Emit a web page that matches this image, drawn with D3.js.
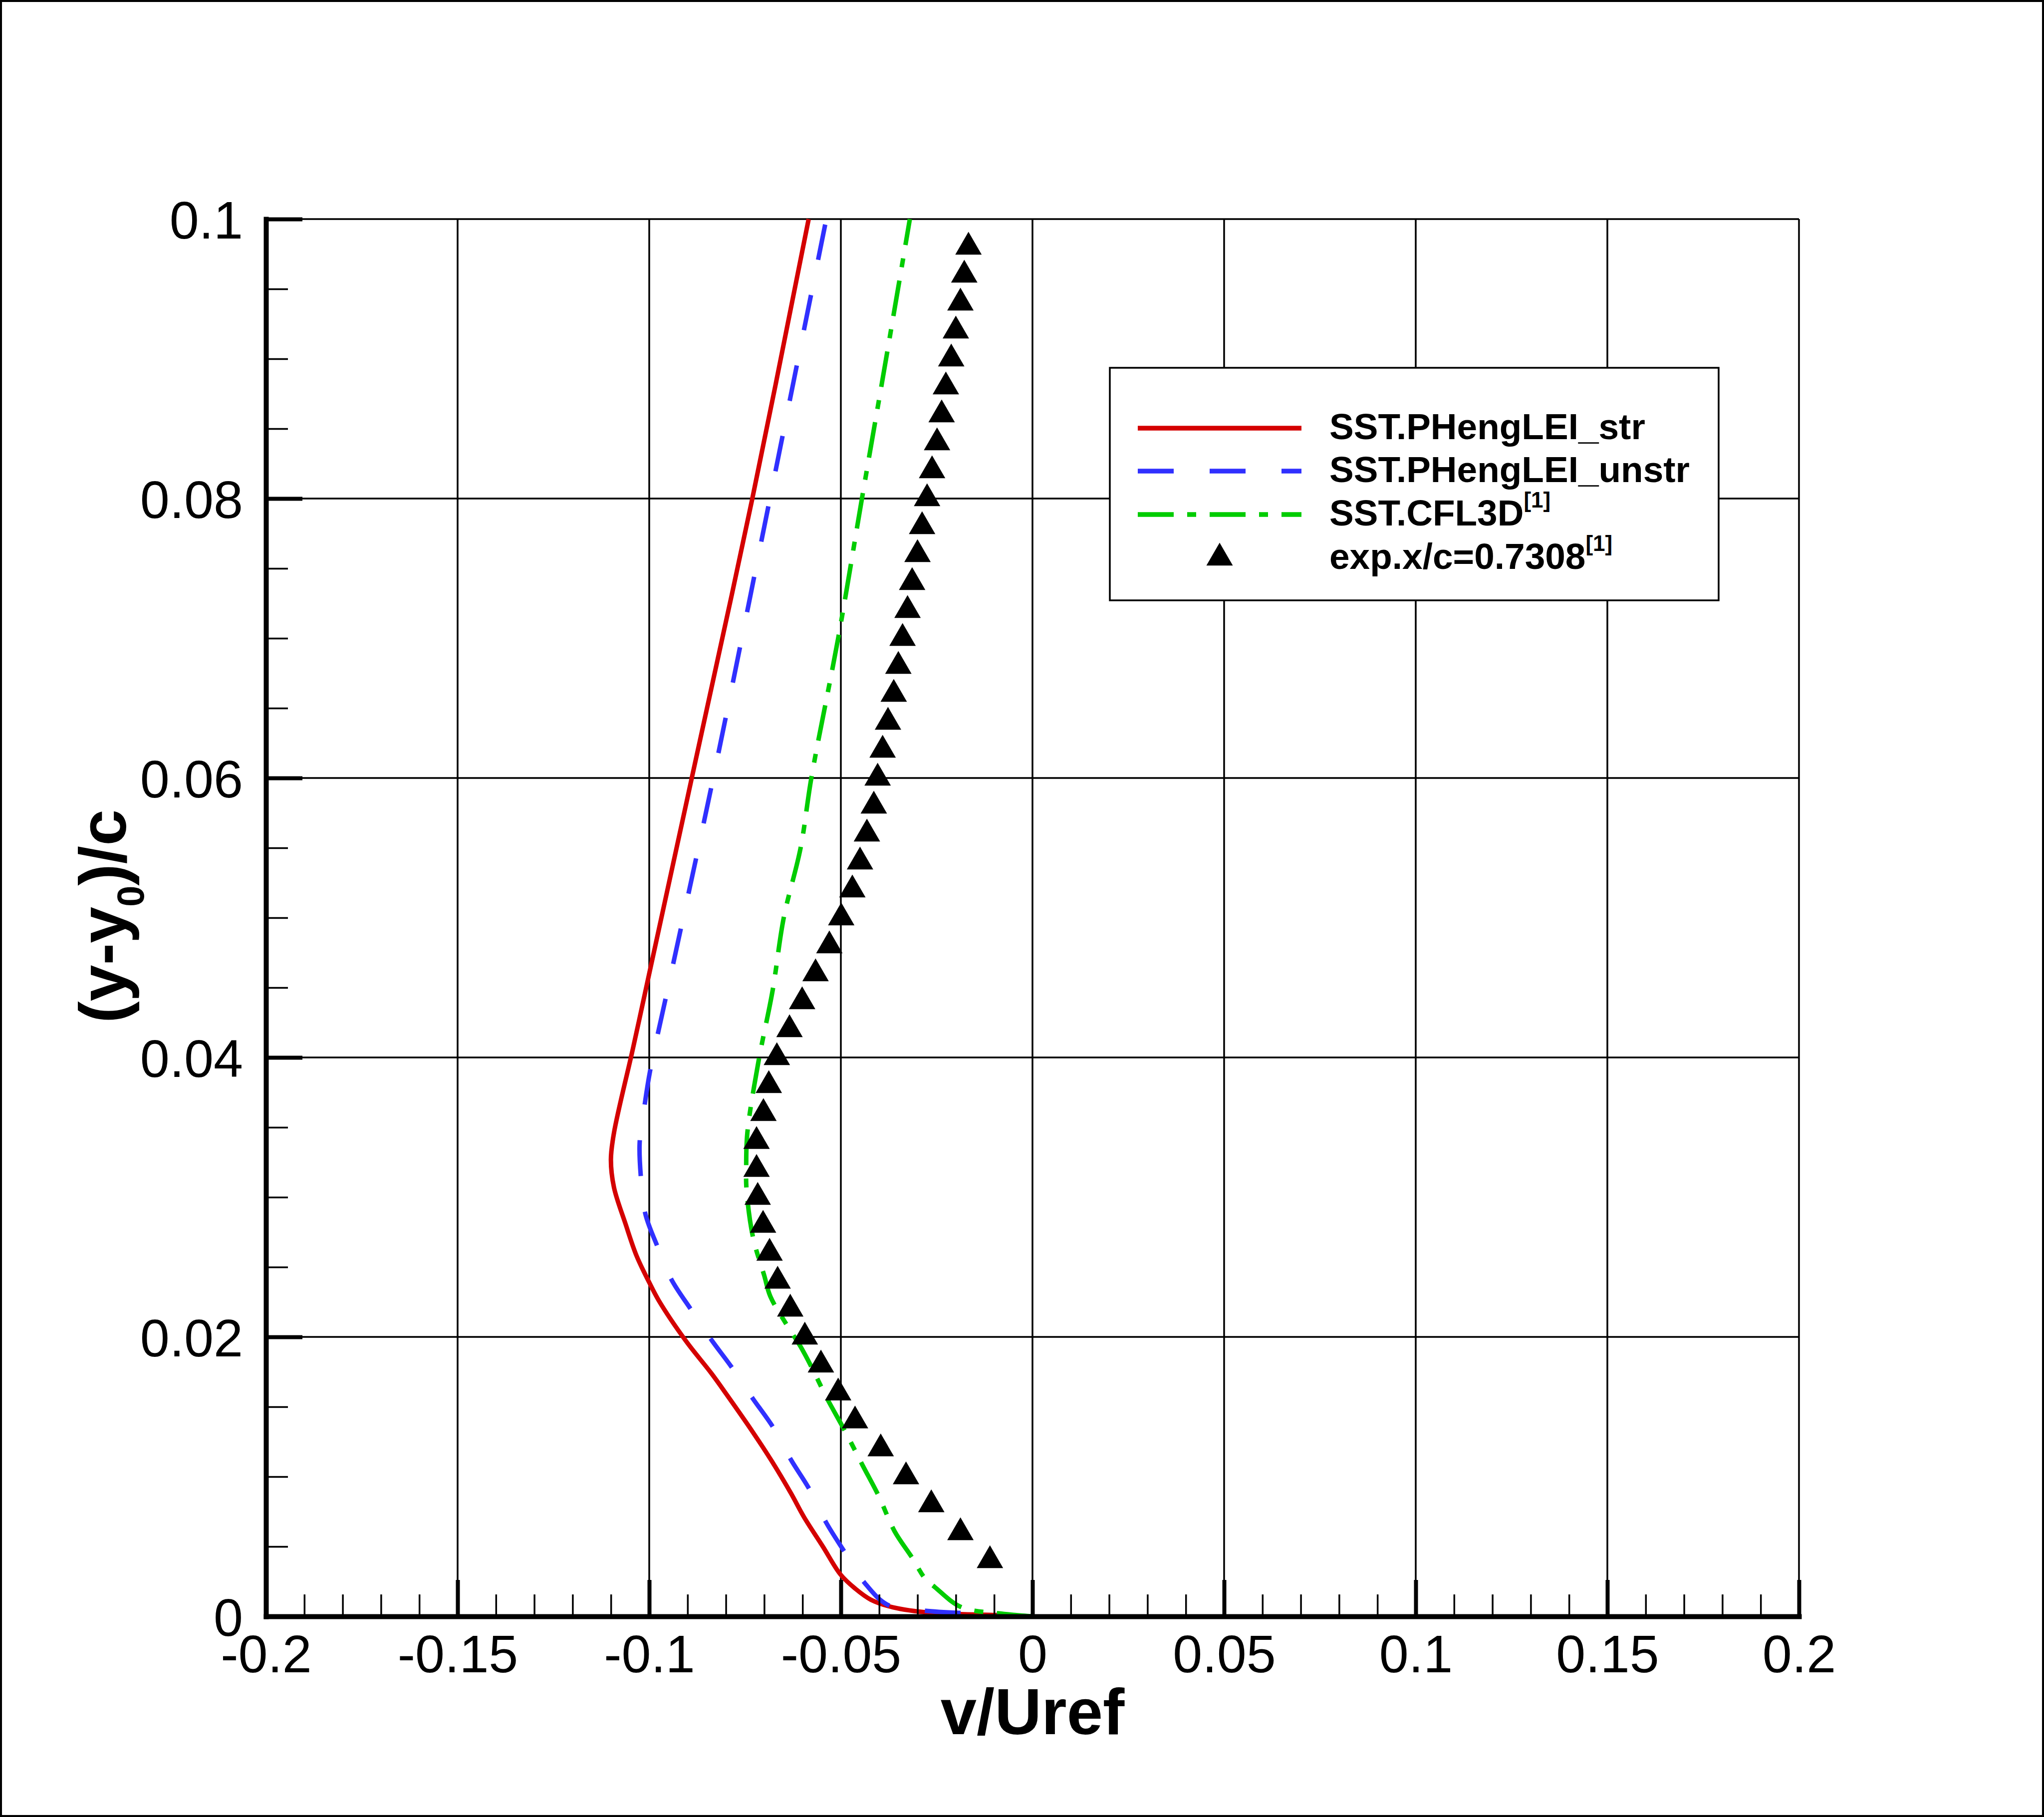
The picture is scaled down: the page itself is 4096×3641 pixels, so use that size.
<!DOCTYPE html>
<html>
<head>
<meta charset="utf-8">
<script src="https://cdn.jsdelivr.net/npm/d3@7"></script>
<style>
  body { margin: 0; background: #fff; }
  svg { display: block; }
  text { font-family: "Liberation Sans", Arial, Helvetica, sans-serif; }
</style>
</head>
<body>
<svg id="chart"></svg>
<script>
// Data (v/Uref vs (y-y0)/c)
const redY = [0, 0.0001, 0.00026, 0.00065, 0.0012, 0.002, 0.003, 0.005, 0.0071, 0.0088, 0.0111, 0.0132, 0.0158, 0.0174, 0.0197, 0.0226, 0.0239, 0.0258, 0.0281, 0.0307, 0.0327, 0.0346, 0.0407, 0.046, 0.06, 0.08, 0.1];
const redV = [0, -0.0097, -0.0264, -0.0364, -0.0422, -0.0463, -0.0501, -0.0547, -0.0596, -0.063, -0.068, -0.073, -0.0796, -0.0838, -0.0904, -0.0975, -0.1, -0.1033, -0.1062, -0.1092, -0.11, -0.1092, -0.1042, -0.1, -0.0889, -0.0731, -0.0584];

const blueY = [0, 0.0002, 0.0004, 0.0008, 0.0024, 0.0046, 0.0067, 0.0091, 0.0112, 0.0135, 0.0156, 0.0178, 0.0198, 0.022, 0.0241, 0.0265, 0.0288, 0.0315, 0.0339, 0.0366, 0.039, 0.046, 0.06, 0.08, 0.1];
const blueV = [0, -0.015, -0.028, -0.0376, -0.0438, -0.049, -0.0538, -0.0582, -0.063, -0.0676, -0.073, -0.0784, -0.0838, -0.0892, -0.0942, -0.0979, -0.101, -0.1022, -0.1025, -0.1012, -0.0998, -0.0943, -0.0833, -0.0685, -0.0538];

const greenY = [0, 0.0002, 0.00065, 0.0021, 0.0027, 0.0042, 0.0061, 0.0086, 0.0108, 0.0132, 0.0157, 0.0176, 0.0193, 0.0209, 0.0229, 0.0244, 0.0271, 0.0305, 0.0322, 0.0346, 0.0397, 0.0448, 0.05, 0.055, 0.06, 0.07, 0.08, 0.09, 0.1];
const greenV = [0, -0.0081, -0.0185, -0.0255, -0.028, -0.0314, -0.036, -0.0401, -0.0443, -0.0488, -0.0538, -0.0572, -0.0605, -0.0642, -0.0684, -0.07, -0.0729, -0.0746, -0.0747, -0.0744, -0.0715, -0.0678, -0.0649, -0.0605, -0.0577, -0.0507, -0.0445, -0.0382, -0.032];

const expY = [0.004, 0.006, 0.008, 0.010, 0.012, 0.014, 0.016, 0.018, 0.020, 0.022, 0.024, 0.026, 0.028, 0.030, 0.032, 0.034, 0.036, 0.038, 0.040, 0.042, 0.044, 0.046, 0.048, 0.050, 0.052, 0.054, 0.056, 0.058, 0.060, 0.062, 0.064, 0.066, 0.068, 0.070, 0.072, 0.074, 0.076, 0.078, 0.080, 0.082, 0.084, 0.086, 0.088, 0.090, 0.092, 0.094, 0.096, 0.098];
const expV = [-0.0111, -0.0188, -0.0264, -0.0330, -0.0396, -0.0463, -0.0507, -0.0552, -0.0594, -0.0632, -0.0665, -0.0686, -0.0703, -0.0717, -0.0720, -0.0720, -0.0702, -0.0688, -0.0667, -0.0634, -0.0601, -0.0566, -0.0530, -0.0499, -0.0470, -0.0450, -0.0432, -0.0414, -0.0404, -0.0391, -0.0377, -0.0362, -0.0350, -0.0339, -0.0326, -0.0314, -0.0300, -0.0288, -0.0275, -0.0262, -0.0249, -0.0237, -0.0226, -0.0212, -0.0200, -0.0188, -0.0178, -0.0167];

const xTicks = [-0.2, -0.15, -0.1, -0.05, 0, 0.05, 0.1, 0.15, 0.2];
const xTickLabels = ["-0.2", "-0.15", "-0.1", "-0.05", "0", "0.05", "0.1", "0.15", "0.2"];
const yTicks = [0, 0.02, 0.04, 0.06, 0.08, 0.1];
const yTickLabels = ["0", "0.02", "0.04", "0.06", "0.08", "0.1"];

const seriesNames = ["SST.PHengLEI_str", "SST.PHengLEI_unstr", "SST.CFL3D", "exp.x/c=0.7308"];
const seriesSup = ["", "", "[1]", "[1]"];

const W = 4096, H = 3641;
const margin = {top: 439, right: 491, bottom: 402, left: 533};

const svg = d3.select('#chart').attr('width', W).attr('height', H);

// scales
const x = d3.scaleLinear().domain([-0.2, 0.2]).range([margin.left, W - margin.right]);
const y = d3.scaleLinear().domain([0, 0.1]).range([H - margin.bottom, margin.top]);

const xMinor = x.ticks(40).filter(d => !xTicks.some(t => Math.abs(t - d) < 1e-9));
const yMinor = y.ticks(20).filter(d => !yTicks.some(t => Math.abs(t - d) < 1e-9));

// outer frame
svg.append('rect')
    .attr('x', 2).attr('y', 2).attr('width', W - 4).attr('height', H - 4)
    .attr('fill', 'white').attr('stroke', 'black').attr('stroke-width', 4);

// grid
const grid = svg.append('g').attr('stroke', 'black').attr('stroke-width', 3.5);
grid.selectAll('.vgrid').data(xTicks).join('line')
    .attr('class', 'vgrid')
    .attr('x1', d => x(d)).attr('x2', d => x(d))
    .attr('y1', y(0)).attr('y2', y(0.1));
grid.selectAll('.hgrid').data(yTicks).join('line')
    .attr('class', 'hgrid')
    .attr('x1', x(-0.2)).attr('x2', x(0.2))
    .attr('y1', d => y(d)).attr('y2', d => y(d));

// curves
const toPts = (vs, ys) => vs.map((v, i) => [v, ys[i]]);
const line = d3.line().x(d => x(d[0])).y(d => y(d[1])).curve(d3.curveCatmullRom.alpha(0.5));

const curves = [
  {pts: toPts(redV, redY), color: '#d40000', dash: null},
  {pts: toPts(blueV, blueY), color: '#3030ff', dash: '72,72'},
  {pts: toPts(greenV, greenY), color: '#00cc00', dash: '72,27,18,27'}
];

svg.append('g').selectAll('path').data(curves).join('path')
    .attr('d', d => line(d.pts))
    .attr('fill', 'none')
    .attr('stroke', d => d.color)
    .attr('stroke-width', 9)
    .attr('stroke-dasharray', d => d.dash);

// experimental triangles
const tri = d3.symbol().type(d3.symbolTriangle).size(1216);
svg.append('g').selectAll('path').data(toPts(expV, expY)).join('path')
    .attr('transform', d => `translate(${x(d[0])},${y(d[1])})`)
    .attr('d', tri)
    .attr('fill', 'black');

// axes: major ticks
const xAxis = svg.append('g')
    .attr('transform', `translate(0,${y(0)})`)
    .call(d3.axisBottom(x).tickValues(xTicks).tickSize(-73).tickSizeOuter(0)
      .tickFormat((d, i) => xTickLabels[i]));
const yAxis = svg.append('g')
    .attr('transform', `translate(${x(-0.2)},0)`)
    .call(d3.axisLeft(y).tickValues(yTicks).tickSize(-73).tickSizeOuter(0)
      .tickFormat((d, i) => yTickLabels[i]));

// minor ticks
svg.append('g')
    .attr('transform', `translate(0,${y(0)})`)
    .call(d3.axisBottom(x).tickValues(xMinor).tickSize(-44).tickSizeOuter(0).tickFormat(''))
    .call(g => g.select('.domain').remove())
    .selectAll('line').attr('stroke-width', 3.5);
svg.append('g')
    .attr('transform', `translate(${x(-0.2)},0)`)
    .call(d3.axisLeft(y).tickValues(yMinor).tickSize(-44).tickSizeOuter(0).tickFormat(''))
    .call(g => g.select('.domain').remove())
    .selectAll('line').attr('stroke-width', 3.5);

[xAxis, yAxis].forEach(g => {
  g.attr('font-family', null).attr('font-size', null);
  g.select('.domain').attr('stroke-width', 10).attr('stroke-linecap', 'square');
  g.selectAll('.tick line').attr('stroke-width', 8);
  g.selectAll('.tick text').attr('fill', 'black').attr('font-size', 106);
});
xAxis.selectAll('.tick text').attr('y', 112).attr('dy', 0);
yAxis.selectAll('.tick text').attr('x', -46).attr('dy', '0.36em');

// axis titles
svg.append('text')
    .attr('x', x(0)).attr('y', 3475)
    .attr('text-anchor', 'middle')
    .attr('font-weight', 'bold').attr('font-size', 130)
    .text('v/Uref');

const yTitle = svg.append('text')
    .attr('transform', 'translate(252,1836) rotate(-90)')
    .attr('text-anchor', 'middle')
    .attr('font-weight', 'bold').attr('font-size', 131);
yTitle.append('tspan').text('(y-y');
yTitle.append('tspan').attr('font-size', 76).attr('dy', 36).text('0');
yTitle.append('tspan').attr('dy', -36).text(')/c');

// legend
const leg = svg.append('g');
leg.append('rect')
    .attr('x', 2224).attr('y', 737).attr('width', 1220).attr('height', 466)
    .attr('fill', 'white').attr('stroke', 'black').attr('stroke-width', 3.5);

const rowY = [858, 944, 1031, 1118];
curves.forEach((c, i) => {
  leg.append('line')
      .attr('x1', 2280).attr('x2', 2608)
      .attr('y1', rowY[i]).attr('y2', rowY[i])
      .attr('stroke', c.color).attr('stroke-width', 9.5)
      .attr('stroke-dasharray', c.dash);
});
leg.append('path')
    .attr('transform', `translate(2444,${rowY[3]})`)
    .attr('d', tri).attr('fill', 'black');

seriesNames.forEach((name, i) => {
  const t = leg.append('text')
      .attr('x', 2664).attr('y', rowY[i] + 22)
      .attr('font-weight', 'bold').attr('font-size', 73);
  t.append('tspan').text(name);
  if (seriesSup[i]) {
    t.append('tspan').attr('font-size', 44).attr('dy', -36).text(seriesSup[i]);
  }
});
</script>
</body>
</html>
